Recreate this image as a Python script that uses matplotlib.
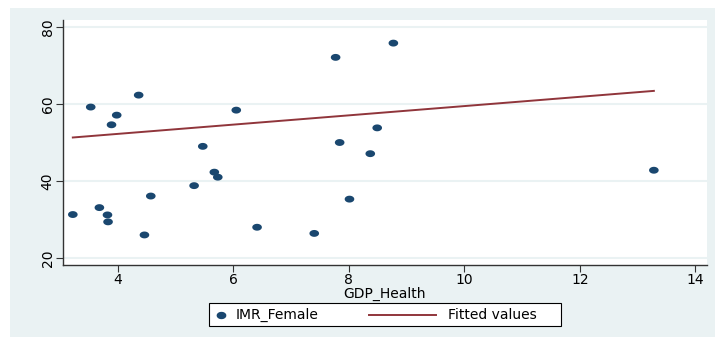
import numpy as np
import matplotlib
matplotlib.use("Agg")
import matplotlib.pyplot as plt
from matplotlib.patches import Rectangle
from matplotlib.lines import Line2D
from matplotlib.path import Path

# health spending share of GDP vs female infant mortality rate
gdp_health = [3.22, 3.53, 3.68, 3.82, 3.83, 3.89, 3.98, 4.36, 4.46, 4.57,
              5.32, 5.47, 5.67, 5.73, 6.05, 6.41, 7.40, 7.77, 7.84, 8.01,
              8.37, 8.49, 8.77, 13.28]
imr_female = [31.3, 59.2, 33.1, 31.2, 29.4, 54.6, 57.1, 62.3, 26.0, 36.1,
              38.8, 49.0, 42.3, 41.0, 58.4, 28.0, 26.4, 72.1, 50.0, 35.3,
              47.1, 53.8, 75.8, 42.8]
# fitted values at the lowest and highest GDP_Health
fitted_values = [51.3, 63.4]
xticks = [4, 6, 8, 10, 12, 14]
yticks = [20, 40, 60, 80]

bg = "#eaf2f3"
navy = "#1a476f"
maroon = "#90353b"
spine_col = "#333333"

plt.rcParams['font.family'] = ['DejaVu Sans']

# slightly flattened dot, like the stata default marker
t = np.linspace(0, 2 * np.pi, 40)
dot = Path(np.column_stack([1.4 * np.cos(t), np.sin(t)]))

W, H = 715, 337
fig = plt.figure(figsize=(W / 100, H / 100), dpi=100)
fig.patch.set_facecolor("white")
# shaded graph region, leaving a thin white margin top and left
fig.patches.append(Rectangle((10 / W, 0), 1, 1 - 8 / H,
                             transform=fig.transFigure, facecolor=bg,
                             edgecolor="none", zorder=-10))

ax = fig.add_axes([63 / W, 1 - 265 / H, 644 / W, 245 / H])
ax.set_facecolor("white")

ax.scatter(gdp_health, imr_female, s=48, marker=dot, color=navy,
           edgecolors="none", zorder=3)
ax.plot([min(gdp_health), max(gdp_health)], fitted_values, color=maroon,
        lw=1.4, zorder=2)

ax.set_xlim(3.05, 14.2)
ax.set_ylim(18.2, 81.8)
ax.set_xticks(xticks)
ax.set_yticks(yticks)
ax.set_yticklabels([str(v) for v in yticks], rotation=90, va="center")
ax.tick_params(axis="both", direction="out", length=5, width=0.8,
               color=spine_col, labelsize=10, pad=1)
ax.grid(axis="y", color=bg, lw=1.5, zorder=0)
ax.set_axisbelow(True)

for side in ["top", "right"]:
    ax.spines[side].set_visible(False)
for side in ["left", "bottom"]:
    ax.spines[side].set_color(spine_col)
    ax.spines[side].set_linewidth(1.0)

ax.set_xlabel("GDP_Health", fontsize=10, labelpad=0)

# legend box under the plot
def fx(px):
    return px / W

def fy(py):
    return 1 - py / H

fig.patches.append(Rectangle((fx(209), fy(326)), fx(561) - fx(209),
                             fy(303) - fy(326), transform=fig.transFigure,
                             facecolor="white", edgecolor="black", lw=0.8))
fig.lines.append(Line2D([fx(221)], [fy(314.5)], marker=dot, markersize=6,
                        color=navy, linestyle="none",
                        transform=fig.transFigure))
fig.text(fx(236), fy(315), "IMR_Female", fontsize=10, va="center")
fig.lines.append(Line2D([fx(369), fx(436)], [fy(314.5), fy(314.5)],
                        color=maroon, lw=1.4, transform=fig.transFigure))
fig.text(fx(448), fy(315), "Fitted values", fontsize=10, va="center")

fig.savefig("out.png", dpi=100, facecolor=fig.get_facecolor())
